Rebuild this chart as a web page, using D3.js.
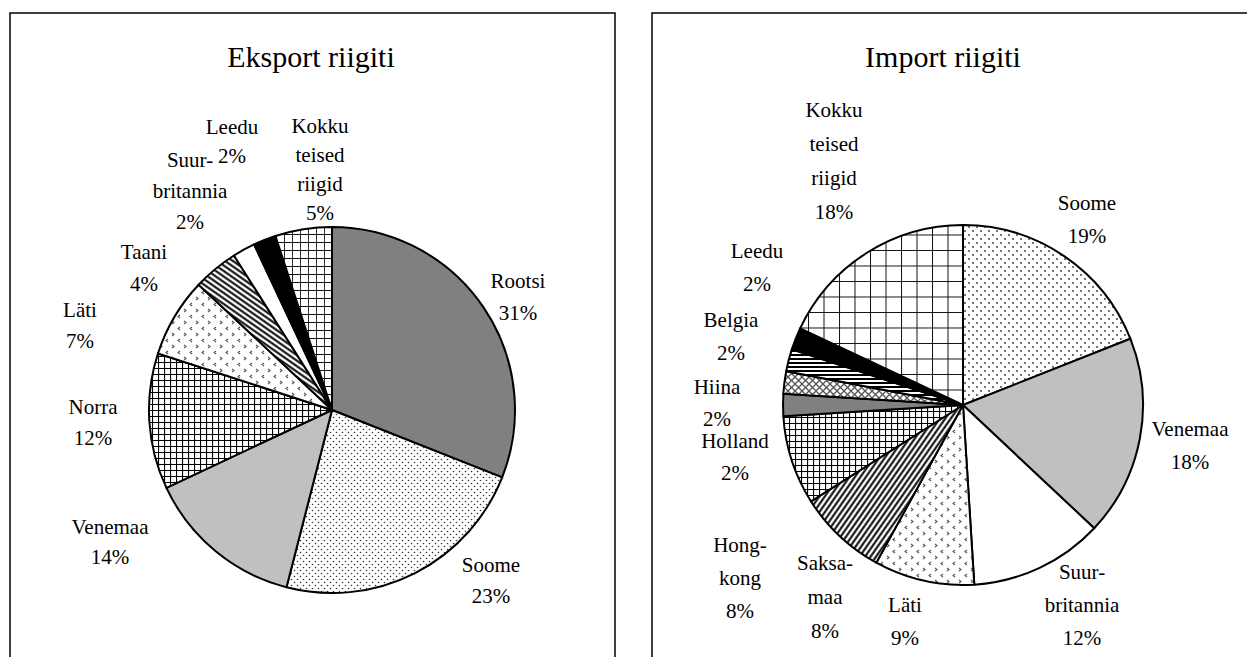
<!DOCTYPE html>
<html><head><meta charset="utf-8">
<script src="https://cdn.jsdelivr.net/npm/d3@7"></script>
<style>body{margin:0;background:#fff}svg{display:block}</style>
</head><body>
<svg id="c" width="1247" height="657"></svg>
<script>
// ---- data ----
const exportTitle = "Eksport riigiti";
const exportCategories = ["Rootsi","Soome","Venemaa","Norra","Läti","Taani","Suurbritannia","Leedu","Kokku teised riigid"];
const exportValues = [31,23,14,12,7,4,2,2,5];
const exportLabelLines = [["Rootsi"],["Soome"],["Venemaa"],["Norra"],["Läti"],["Taani"],["Suur-","britannia"],["Leedu"],["Kokku","teised","riigid"]];

const importTitle = "Import riigiti";
const importCategories = ["Soome","Venemaa","Suurbritannia","Läti","Saksamaa","Hongkong","Holland","Hiina","Belgia","Leedu","Kokku teised riigid"];
const importValues = [19,18,12,9,8,8,2,2,2,2,18];
const importLabelLines = [["Soome"],["Venemaa"],["Suur-","britannia"],["Läti"],["Saksa-","maa"],["Hong-","kong"],["Holland"],["Hiina"],["Belgia"],["Leedu"],["Kokku","teised","riigid"]];

// ---- layout / style ----
const exportFills = ["#808080","url(#dotsA)","#c0c0c0","url(#gridS)","url(#chev)","url(#diagDown)","#ffffff","#000000","url(#gridL)"];
const importFills = ["url(#dotsB)","#c0c0c0","#ffffff","url(#chev)","url(#diagUp)","url(#gridS)","#808080","url(#diamond)","url(#horiz)","#000000","url(#gridXL)"];
const exportLabelPos = [[518,281],[491,565],[110,527],[93,407],[80,310],[144,252],[190,160],[232,127],[320,126]];
const importLabelPos = [[1087,203],[1190,429],[1082,572],[905,605],[825,563],[740,545],[735,441],[717,387],[731,320],[757,251],[834,110]];
const exportGaps = [32,31,30,31,31,32,31,29,29];
const importGaps = [33,33,33,33,34,33,32,32,33,33,34];

const svg = d3.select("#c");
const defs = svg.append("defs");
function pat(id,w,h,draw,rot){
  const p = defs.append("pattern").attr("id",id).attr("patternUnits","userSpaceOnUse").attr("width",w).attr("height",h);
  if(rot) p.attr("patternTransform","rotate("+rot+")");
  p.append("rect").attr("width",w).attr("height",h).attr("fill","#fff");
  draw(p);
}
pat("dotsA",6,6,p=>{p.append("circle").attr("cx",1.5).attr("cy",1.5).attr("r",0.8).attr("fill","#333");p.append("circle").attr("cx",4.5).attr("cy",4.5).attr("r",0.8).attr("fill","#333");});
pat("dotsB",8,8,p=>{p.append("circle").attr("cx",2).attr("cy",2).attr("r",0.9).attr("fill","#333");p.append("circle").attr("cx",6).attr("cy",6).attr("r",0.9).attr("fill","#333");});
pat("gridS",6,6,p=>{p.append("path").attr("d","M0,0H6M0,0V6").attr("stroke","#000").attr("stroke-width",2.2);});
pat("gridL",8,8,p=>{p.append("path").attr("d","M0,0H8M0,0V8").attr("stroke","#111").attr("stroke-width",1.8);});
pat("gridXL",15.5,15.5,p=>{p.append("path").attr("d","M0,0H15.5M0,0V15.5").attr("stroke","#111").attr("stroke-width",2);});
pat("chev",12,12,p=>{
  p.append("path").attr("d","M4,1 L2,2.5 L4,4").attr("fill","none").attr("stroke","#555").attr("stroke-width",1.1);
  p.append("path").attr("d","M8,7 L10,8.5 L8,10").attr("fill","none").attr("stroke","#555").attr("stroke-width",1.1);
});
pat("diagDown",4.5,4.5,p=>{p.append("path").attr("d","M0,2.25H4.5").attr("stroke","#000").attr("stroke-width",2);},35);
pat("diagUp",4.5,4.5,p=>{p.append("path").attr("d","M0,2.25H4.5").attr("stroke","#000").attr("stroke-width",2);},-55);
pat("diamond",7,7,p=>{p.append("path").attr("d","M0,0L7,7M7,0L0,7").attr("stroke","#555").attr("stroke-width",1.3);});
pat("horiz",4,4,p=>{p.append("path").attr("d","M0,2H4").attr("stroke","#000").attr("stroke-width",2);});

// frames
svg.append("rect").attr("x",10).attr("y",13).attr("width",605).attr("height",700).attr("fill","none").attr("stroke","#000").attr("stroke-width",1.5);
svg.append("rect").attr("x",652).attr("y",13).attr("width",620).attr("height",700).attr("fill","none").attr("stroke","#000").attr("stroke-width",1.5);

function drawPie(cx,cy,r,title,titleX,values,fills,labelLines,labelPos,gaps){
  const g = svg.append("g").attr("transform",`translate(${cx},${cy})`);
  const pie = d3.pie().sort(null).value(d=>d);
  const arc = d3.arc().innerRadius(0).outerRadius(r);
  const arcs = pie(values);
  g.selectAll("path").data(arcs).join("path")
    .attr("d",arc).attr("fill",(d,i)=>fills[i])
    .attr("stroke","#000").attr("stroke-width",2).attr("stroke-linejoin","round");
  svg.append("text").attr("x",titleX).attr("y",56).attr("text-anchor","middle").attr("dominant-baseline","central")
    .attr("font-family","Liberation Serif, Times New Roman, serif").attr("font-size",30).text(title);
  const total = d3.sum(values);
  arcs.forEach((a,i)=>{
    const lines = labelLines[i].concat([Math.round(values[i]/total*100)+"%"]);
    const t = svg.append("text").attr("text-anchor","middle")
      .attr("font-family","Liberation Serif, Times New Roman, serif").attr("font-size",21).attr("fill","#000");
    lines.forEach((s,k)=>{
      t.append("tspan").attr("x",labelPos[i][0]).attr("y",labelPos[i][1]+k*gaps[i]).attr("dominant-baseline","central").text(s);
    });
  });
}
drawPie(332,410,183,exportTitle,311,exportValues,exportFills,exportLabelLines,exportLabelPos,exportGaps);
drawPie(963,405,180,importTitle,943,importValues,importFills,importLabelLines,importLabelPos,importGaps);
</script>
</body></html>
